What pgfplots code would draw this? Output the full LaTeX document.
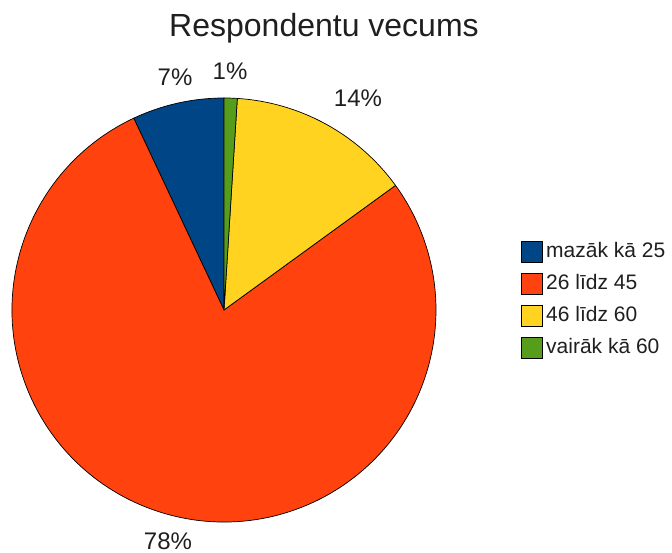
\documentclass[border=0pt]{standalone}
\usepackage{pgfplots}
\pgfplotsset{compat=1.18}
\usepackage{pgfplotstable}
\usepackage{fontspec}
\setmainfont{Liberation Sans}
\definecolor{pblue}{HTML}{004586}
\definecolor{porange}{HTML}{FF420E}
\definecolor{pyellow}{HTML}{FFD320}
\definecolor{pgreen}{HTML}{579D1C}
\newcommand\lblfont{\fontsize{24}{24}\selectfont}
\newcommand\legfont{\fontsize{21}{21}\selectfont}
\newcommand\ttlfont{\fontsize{32}{32}\selectfont}

\pgfplotstableread[col sep=comma]{
label,value,color,lx,ly
mazāk kā 25,7,pblue,175,476
26 līdz 45,78,porange,168,12
46 līdz 60,14,pyellow,358,455
vairāk kā 60,1,pgreen,230,482
}\piedata

\begin{document}
\begin{tikzpicture}
\useasboundingbox (0,0) rectangle (672pt,553pt);
\begin{axis}[at={(0,0)},anchor=south west,width=672pt,height=553pt,scale only axis,
  xmin=0,xmax=672,ymin=0,ymax=553,hide axis,clip=false,xtick=\empty,ytick=\empty]
\def\cum{0}
\pgfplotsforeachungrouped \i in {0,...,3}{%
  \pgfplotstablegetelem{\i}{value}\of\piedata \let\sliceval\pgfplotsretval
  \pgfplotstablegetelem{\i}{color}\of\piedata \let\slicecol\pgfplotsretval
  \pgfplotstablegetelem{\i}{label}\of\piedata \let\slicelab\pgfplotsretval
  \pgfplotstablegetelem{\i}{lx}\of\piedata \let\lx\pgfplotsretval
  \pgfplotstablegetelem{\i}{ly}\of\piedata \let\ly\pgfplotsretval
  \pgfmathsetmacro\angA{90+3.6*\cum}%
  \pgfmathsetmacro\cum{\cum+\sliceval}%
  \pgfmathsetmacro\angB{90+3.6*\cum}%
  \pgfmathsetmacro\px{224+212*cos(\angA)}%
  \pgfmathsetmacro\py{243+212*sin(\angA)}%
  \edef\cmd{\noexpand\filldraw[fill=\slicecol,draw=black,line width=0.7pt,line join=round]
    (axis cs:224,243) -- (axis cs:\px,\py) arc[start angle=\angA,end angle=\angB,radius=212pt] -- cycle;}%
  \cmd
  \edef\cmd{\noexpand\node[font=\noexpand\lblfont,text=black!88] at (axis cs:\lx,\ly) {\sliceval\noexpand\%};}%
  \cmd
  \pgfmathsetmacro\ya{553-241-32*\i}%
  \pgfmathsetmacro\yb{553-262-32*\i}%
  \pgfmathsetmacro\yt{553-258-32*\i}%
  \edef\cmd{\noexpand\filldraw[fill=\slicecol,draw=black,line width=0.7pt] (axis cs:521,\ya) rectangle (axis cs:542,\yb);}%
  \cmd
  \edef\cmd{\noexpand\node[anchor=base west,inner sep=0pt,font=\noexpand\legfont,text=black!88] at (axis cs:546,\yt) {\slicelab};}%
  \cmd
}
\node[anchor=base,inner sep=0pt,font=\ttlfont,text=black!88] at (axis cs:324,516) {Respondentu vecums};
\end{axis}
\end{tikzpicture}
\end{document}
